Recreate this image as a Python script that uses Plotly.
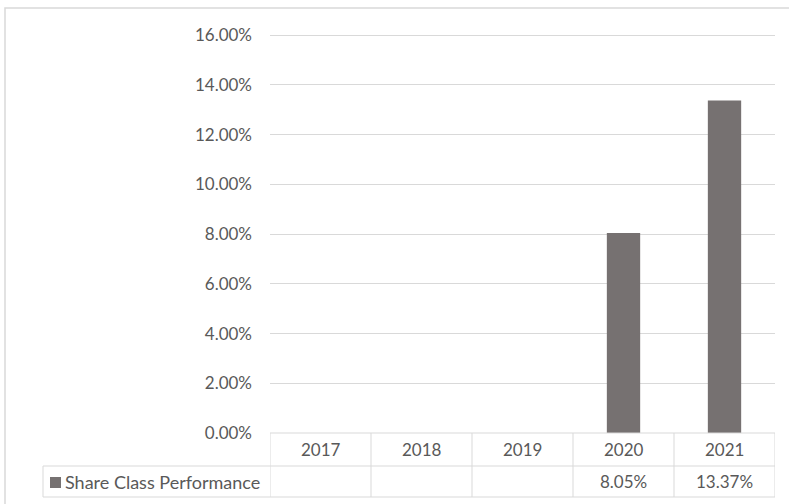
import plotly.graph_objects as go

years = ["2017", "2018", "2019", "2020", "2021"]
performance = [None, None, None, 8.05, 13.37]
series_name = "Share Class Performance"
y_ticks = [0, 2, 4, 6, 8, 10, 12, 14, 16]

W, H = 789, 504
L, R, T, B = 270, 14, 34, 71
plot_w = W - L - R
plot_h = H - T - B

def px_x(px):
    return (px - L) / plot_w

def px_y(py):
    return (H - B - py) / plot_h

FONT = "Lato"
TXT = "#595959"
GRID = "#d9d9d9"
BAR = "#767171"

fig = go.Figure()
fig.add_trace(go.Bar(x=years, y=performance, marker=dict(color=BAR, line=dict(width=0)),
                     name=series_name, showlegend=False))

row1_bot = px_y(466)
row2_bot = px_y(497)
tbl_left = px_x(43)

shapes = []
line = dict(color=GRID, width=1)
shapes.append(dict(type="line", xref="x", yref="paper", x0=-0.5, x1=4.5, y0=0, y1=0, line=line))
shapes.append(dict(type="line", xref="paper", yref="paper", x0=tbl_left, x1=1, y0=row1_bot, y1=row1_bot, line=line))
shapes.append(dict(type="line", xref="paper", yref="paper", x0=tbl_left, x1=1, y0=row2_bot, y1=row2_bot, line=line))
for i in range(len(years) + 1):
    shapes.append(dict(type="line", xref="x", yref="paper", x0=i - 0.5, x1=i - 0.5,
                       y0=0, y1=row2_bot, line=line))
shapes.append(dict(type="line", xref="paper", yref="paper", x0=tbl_left, x1=tbl_left,
                   y0=row1_bot, y1=row2_bot, line=line))
shapes.append(dict(type="rect", xref="paper", yref="paper", x0=px_x(50), x1=px_x(61),
                   y0=px_y(488), y1=px_y(477), fillcolor=BAR, line=dict(width=0)))
shapes.append(dict(type="rect", xref="paper", yref="paper", x0=px_x(5), x1=px_x(800),
                   y0=px_y(520), y1=px_y(8), line=dict(color=GRID, width=1.5), layer="below"))

annotations = []
mid1 = px_y(449.5)
mid2 = px_y(481.5)
for i, (yr, v) in enumerate(zip(years, performance)):
    annotations.append(dict(x=i, y=mid1, xref="x", yref="paper", text=yr, showarrow=False,
                            font=dict(family=FONT, size=17, color=TXT), yanchor="middle"))
    if v is not None:
        annotations.append(dict(x=i, y=mid2, xref="x", yref="paper", text=f"{v:.2f}%",
                                showarrow=False, font=dict(family=FONT, size=17, color=TXT),
                                yanchor="middle"))
annotations.append(dict(x=px_x(63), y=mid2, xref="paper", yref="paper", text=series_name,
                        showarrow=False, xanchor="left", yanchor="middle",
                        font=dict(family=FONT, size=18, color=TXT)))

fig.update_layout(
    width=W, height=H,
    margin=dict(l=L, r=R, t=T, b=B),
    paper_bgcolor="white", plot_bgcolor="white",
    bargap=0.67,
    shapes=shapes, annotations=annotations,
    xaxis=dict(type="category", range=[-0.5, 4.5], showticklabels=False, showgrid=False,
               zeroline=False, showline=False, ticks=""),
    yaxis=dict(range=[0, 16.05], tickvals=y_ticks, ticktext=[f"{t:.2f}%" for t in y_ticks],
               showgrid=True, gridcolor=GRID, gridwidth=1, zeroline=False, showline=False,
               ticklabelstandoff=17, tickfont=dict(family=FONT, size=17, color=TXT)),
    font=dict(family=FONT, color=TXT),
)

fig.write_html("out.html", config={"displayModeBar": False},
               post_script="document.body.style.margin='0';")
